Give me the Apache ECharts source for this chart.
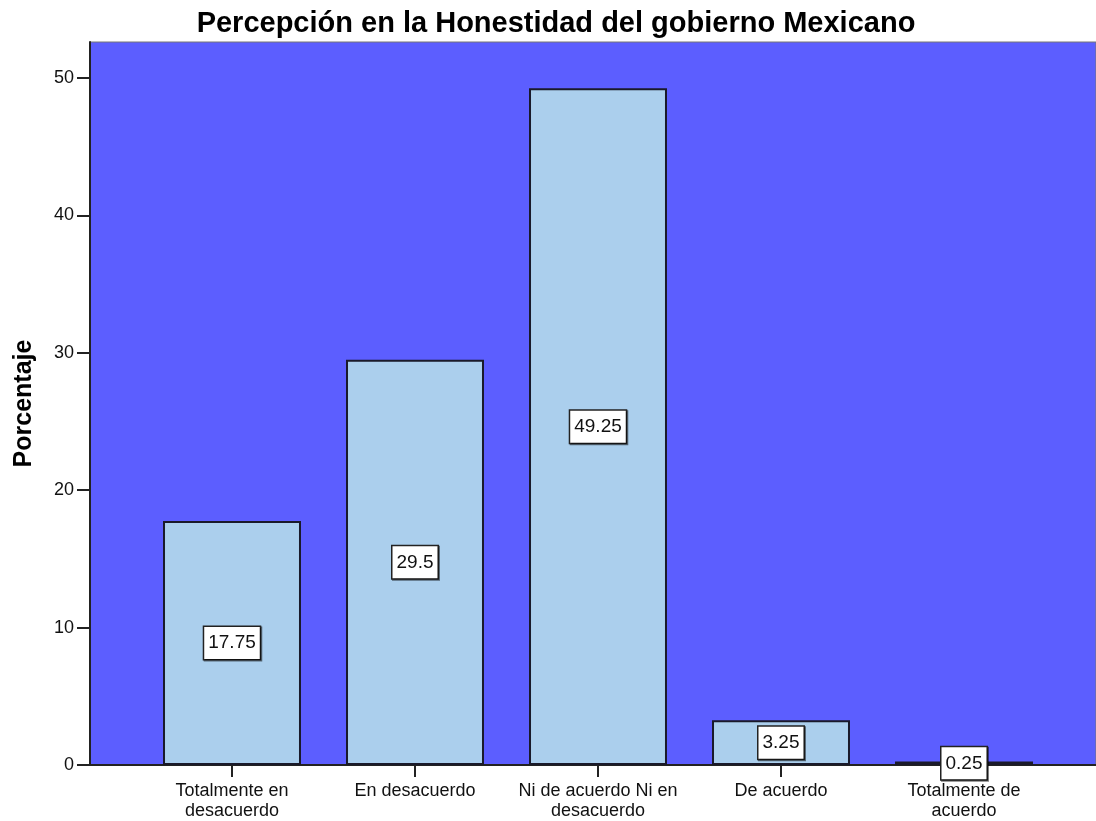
<!DOCTYPE html>
<html><head><meta charset="utf-8">
<script src="https://cdn.jsdelivr.net/npm/echarts@6/dist/echarts.min.js"></script>
<style>html,body{margin:0;padding:0;background:#fff}#c{width:1096px;height:821px}</style>
</head><body><div id="c"></div>
<script>
const categories = ["Totalmente en\ndesacuerdo","En desacuerdo","Ni de acuerdo Ni en\ndesacuerdo","De acuerdo","Totalmente de\nacuerdo"];
const values = [17.75, 29.5, 49.25, 3.25, 0.25];
const yTicks = [0,10,20,30,40,50];
const title = "Percepción en la Honestidad del gobierno Mexicano";
const yName = "Porcentaje";

const chart = echarts.init(document.getElementById('c'), null, {renderer:'canvas'});
const font = "'Liberation Sans', Arial, sans-serif";
const YMAX = 52.62;
chart.setOption({
  animation:false,
  title:{text:title,left:551,textAlign:'center',top:4,textStyle:{fontFamily:font,fontSize:29,fontWeight:'bold',color:'#000'}},
  grid:[
    {left:90,right:-2,top:42,bottom:56,show:true,backgroundColor:'#5c5eff',borderColor:'#777',borderWidth:1},
    {left:140.5,right:40.5,top:42,bottom:56}
  ],
  xAxis:[
    {gridIndex:0,type:'value',min:0,max:1,axisLine:{show:true,onZero:false,lineStyle:{color:'#222',width:2}},axisTick:{show:false},axisLabel:{show:false},splitLine:{show:false}},
    {gridIndex:1,type:'category',data:categories,axisLine:{show:false},
     axisTick:{show:true,alignWithLabel:true,length:12,lineStyle:{color:'#222',width:2}},
     axisLabel:{fontFamily:font,fontSize:18,color:'#111',margin:16,lineHeight:20,interval:0}}
  ],
  yAxis:[
    {gridIndex:0,type:'value',min:0,max:YMAX,interval:10,
     axisLine:{show:true,lineStyle:{color:'#222',width:2}},
     axisTick:{show:true,length:13,lineStyle:{color:'#222',width:2}},
     axisLabel:{fontFamily:font,fontSize:18,color:'#111',margin:16,showMaxLabel:false,formatter:v=>yTicks.includes(v)?String(v):''},
     splitLine:{show:false},
     name:yName,nameLocation:'middle',nameGap:53,nameTextStyle:{fontFamily:font,fontSize:25,fontWeight:'bold',color:'#000'}},
    {gridIndex:1,type:'value',min:0,max:YMAX,show:false}
  ],
  series:[{
    type:'bar',xAxisIndex:1,yAxisIndex:1,data:values,barWidth:'75.4%',
    itemStyle:{color:'#abcfed',borderColor:'#1a1a2a',borderWidth:2},
    label:{show:true,position:'inside',fontFamily:font,fontSize:19,color:'#111',
      backgroundColor:'#fff',borderColor:'#222',borderWidth:1.5,padding:[8,4,5,4],
      shadowColor:'rgba(0,0,0,0.5)',shadowOffsetX:1,shadowOffsetY:1,shadowBlur:0}
  }]
});
</script></body></html>
